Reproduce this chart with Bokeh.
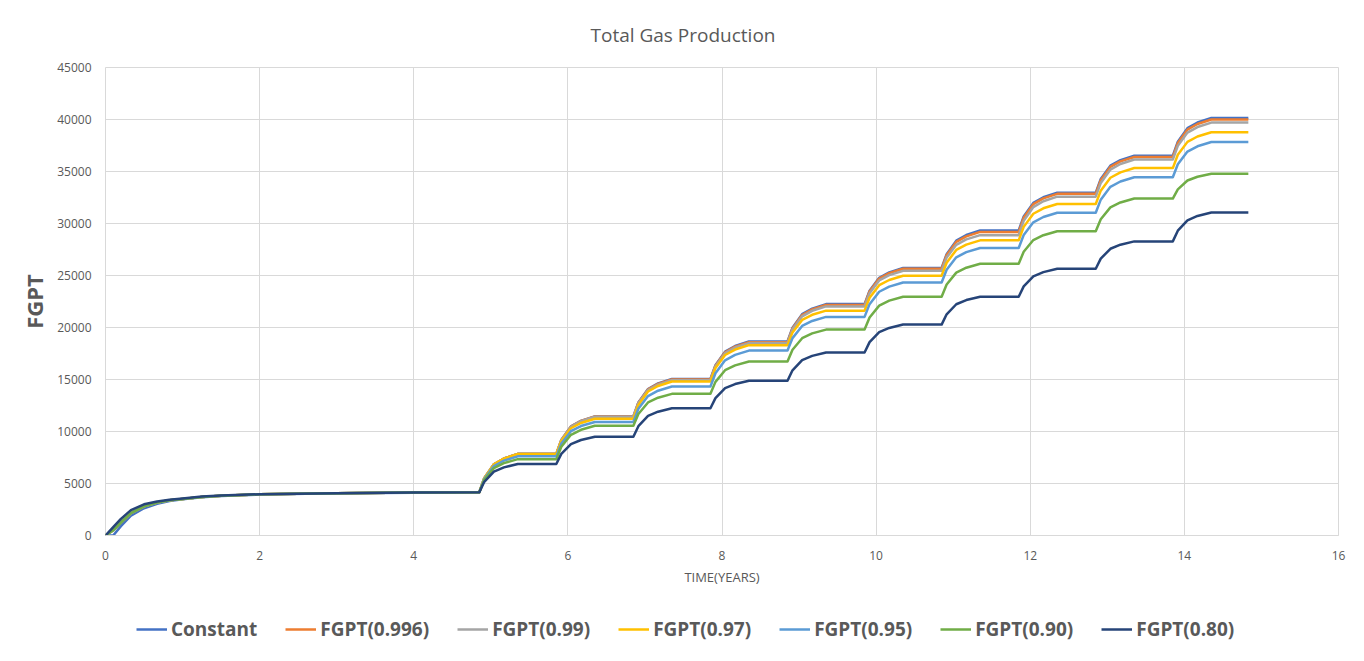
from bokeh.plotting import figure
from bokeh.layouts import column
from bokeh.models import Legend, LegendItem, Range1d, SingleIntervalTicker
from bokeh.embed import file_html
from bokeh.resources import INLINE

# ---------------- data ----------------
series_names = ["Constant", "FGPT(0.996)", "FGPT(0.99)", "FGPT(0.97)",
                "FGPT(0.95)", "FGPT(0.90)", "FGPT(0.80)"]
series_colors = ["#4472C4", "#ED7D31", "#A5A5A5", "#FFC000",
                 "#5B9BD5", "#70AD47", "#264478"]

# early build-up period (years) and values
early_time = [0, 0.1, 0.2, 0.33, 0.5, 0.67, 0.83, 1.0, 1.25, 1.5, 2.0, 3.0, 4.0, 4.85]
early_constant = [0, 0, 900, 1900, 2620, 3050, 3320, 3480, 3680, 3800, 3940, 4060, 4120, 4150]
early_mid = [0, 500, 1250, 2150, 2800, 3170, 3380, 3520, 3710, 3830, 3960, 4065, 4125, 4150]
early_080 = [0, 800, 1600, 2440, 3000, 3270, 3430, 3550, 3740, 3850, 3970, 4070, 4130, 4150]

# yearly production steps: start times, and the shape of one rise
step_start = [4.85, 5.85, 6.85, 7.85, 8.85, 9.85, 10.85, 11.85, 12.85, 13.85]
rise_offset = [0, 0.065, 0.19, 0.32, 0.5]
rise_fraction = [0, 0.37, 0.73, 0.88, 1.0]
end_time = 14.83

# plateau reached after each step
plateau_constant = [7850, 11460, 15050, 18650, 22250, 25720, 29330, 32960, 36520, 40150]
plateau_0996 = [7845, 11450, 15000, 18590, 22170, 25650, 29190, 32850, 36400, 40000]
plateau_099 = [7840, 11420, 14930, 18500, 22030, 25450, 28880, 32580, 36150, 39700]
plateau_097 = [7835, 11230, 14810, 18300, 21620, 24970, 28380, 31880, 35330, 38780]
plateau_095 = [7610, 10920, 14330, 17780, 21020, 24330, 27640, 31030, 34450, 37830]
plateau_090 = [7340, 10550, 13620, 16730, 19800, 22960, 26130, 29250, 32400, 34780]
plateau_080 = [6880, 9500, 12230, 14880, 17600, 20280, 22960, 25650, 28280, 31060]

x_ticks_interval = 2
y_ticks_interval = 5000


def build(early_vals, plateaus):
    xs = list(early_time)
    ys = list(early_vals)
    prev = early_vals[-1]
    for t0, target in zip(step_start, plateaus):
        for off, frac in zip(rise_offset, rise_fraction):
            xs.append(t0 + off)
            ys.append(prev + frac * (target - prev))
        prev = target
    xs.append(end_time)
    ys.append(prev)
    return xs, ys


early_sets = [early_constant, early_mid, early_mid, early_mid, early_mid, early_mid, early_080]
plateau_sets = [plateau_constant, plateau_0996, plateau_099, plateau_097,
                plateau_095, plateau_090, plateau_080]

TXT = "#595959"
GRID = "#D9D9D9"
FONT = "Open Sans"

p = figure(frame_width=1233, frame_height=468, output_backend="svg",
           toolbar_location=None,
           x_range=Range1d(0, 16), y_range=Range1d(0, 45000),
           min_border_left=105, min_border_right=18, min_border_top=67,
           min_border_bottom=62, background_fill_color="white",
           border_fill_color="white")

p.title.text = "Total Gas Production"
p.title.align = "left"
p.title.text_font = FONT
p.title.text_font_size = "19px"
p.title.text_font_style = "normal"
p.title.text_color = TXT
p.title.text_line_height = 1.0
p.title.standoff = 39
p.title.offset = 485

p.outline_line_color = GRID
p.grid.grid_line_color = GRID
p.grid.grid_line_width = 1

p.xaxis.ticker = SingleIntervalTicker(interval=x_ticks_interval)
p.yaxis.ticker = SingleIntervalTicker(interval=y_ticks_interval)
for ax in (p.xaxis[0], p.yaxis[0]):
    ax.major_tick_line_color = None
    ax.minor_tick_line_color = None
    ax.major_tick_out = 0
    ax.major_tick_in = 0
    ax.minor_tick_out = 0
    ax.minor_tick_in = 0
    ax.major_label_text_color = TXT
    ax.major_label_text_font = FONT
    ax.major_label_text_font_size = "12px"
    ax.axis_label_text_color = TXT
    ax.axis_label_text_font = FONT
p.xaxis.axis_line_color = GRID
p.yaxis.axis_line_color = None
p.xaxis.major_label_standoff = 15
p.yaxis.major_label_standoff = 14
p.xaxis.axis_label = "TIME(YEARS)"
p.xaxis.axis_label_text_font_size = "13px"
p.xaxis.axis_label_text_font_style = "normal"
p.xaxis.axis_label_standoff = 5
p.yaxis.axis_label = "FGPT"
p.yaxis.axis_label_text_font_size = "22px"
p.yaxis.axis_label_text_font_style = "bold"
p.yaxis.axis_label_standoff = 5

# legend strip below the chart (its own canvas so the legend is not clipped)
leg_fig = figure(width=1356, height=56, output_backend="svg", toolbar_location=None,
                 title=None, x_axis_type=None, y_axis_type=None,
                 x_range=Range1d(0, 16), y_range=Range1d(-100000, -90000),
                 min_border=0, outline_line_color=None,
                 background_fill_color="white", border_fill_color="white")
leg_fig.grid.visible = False

items = []
for name, color, ev, pl in zip(series_names, series_colors, early_sets, plateau_sets):
    xs, ys = build(ev, pl)
    p.line(xs, ys, line_color=color, line_width=2.5, line_join="round")
    r2 = leg_fig.line(xs, ys, line_color=color, line_width=2.5)
    r2.visible = False
    items.append(LegendItem(label=name, renderers=[r2]))

legend = Legend(items=items, orientation="horizontal", location=(31, 11),
                label_text_font=FONT, label_text_font_size="19px",
                label_text_font_style="bold", label_text_color=TXT,
                glyph_width=31, glyph_height=16, label_standoff=4, spacing=28,
                padding=5, margin=0, border_line_color=None,
                background_fill_alpha=0, click_policy="none")
leg_fig.add_layout(legend)

layout = column(p, leg_fig, spacing=0)
open("out.html", "w").write(file_html(layout, INLINE))
